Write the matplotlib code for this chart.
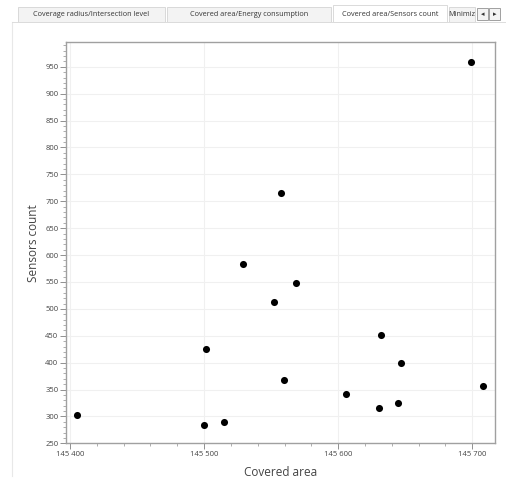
import matplotlib
matplotlib.use("Agg")
import matplotlib.pyplot as plt
from matplotlib.patches import Rectangle
from matplotlib.ticker import MultipleLocator, FuncFormatter

plt.rcParams['font.family'] = ['Open Sans', 'DejaVu Sans']

# Each run: covered area vs. number of sensors used
covered_area = [145405.0, 145500.2, 145515.1, 145501.3, 145528.9, 145557.5,
                145552.2, 145568.4, 145559.9, 145605.7, 145630.8, 145632.1,
                145647.2, 145645.0, 145699.0, 145708.4]
sensors_count = [302, 284, 290, 426, 584, 715, 512, 549, 368, 342, 316, 452,
                 400, 325, 958, 357]

tab_titles = ["Coverage radius/Intersection level",
              "Covered area/Energy consumption",
              "Covered area/Sensors count",
              "Minimiz"]
x_label = "Covered area"
y_label = "Sensors count"

W, H = 510, 482
fig = plt.figure(figsize=(W / 100, H / 100), dpi=100)
fig.patch.set_facecolor("white")


def fx(px):
    return px / W


def fy(py):
    return 1 - py / H


# ---- tab strip ----
tab_spans = [(18, 165), (167, 331), (333, 447), (449, 475)]
for i, ((x0, x1), title) in enumerate(zip(tab_spans, tab_titles)):
    selected = (i == 2)
    top = 5 if selected else 7
    fig.add_artist(Rectangle((fx(x0), fy(22)), fx(x1 - x0), (22 - top) / H,
                             transform=fig.transFigure,
                             facecolor="white" if selected else "#f3f3f3",
                             edgecolor="#d4d4d4", linewidth=0.6, zorder=1))
    fig.text(fx((x0 + x1) / 2), fy(14.5), title, ha="center", va="center",
             fontsize=5.2, color="#333333", zorder=2)
# scroll buttons
for bx, sym in [(477, "◂"), (489, "▸")]:
    fig.add_artist(Rectangle((fx(bx), fy(20)), fx(11), 12 / H,
                             transform=fig.transFigure, facecolor="#f4f4f4",
                             edgecolor="#a0a0a0", linewidth=0.7))
    fig.text(fx(bx + 5.5), fy(14), sym, ha="center", va="center",
             fontsize=5, color="#333333", family="DejaVu Sans")
# panel border under tabs
fig.add_artist(plt.Line2D([fx(12), fx(12)], [fy(22), fy(476)],
                          transform=fig.transFigure, color="#e8e8e8", lw=0.8))
fig.add_artist(plt.Line2D([fx(12), fx(333)], [fy(22), fy(22)],
                          transform=fig.transFigure, color="#dcdcdc", lw=0.7))
fig.add_artist(plt.Line2D([fx(447), fx(505)], [fy(22), fy(22)],
                          transform=fig.transFigure, color="#dcdcdc", lw=0.7))

# ---- plot area ----
left, right, top, bottom = 66, 495, 42, 443.4
ax = fig.add_axes([fx(left), fy(bottom), fx(right - left), (bottom - top) / H])
ax.set_facecolor("white")

ax.scatter(covered_area, sensors_count, s=26, color="black", zorder=3,
           linewidths=0)

ax.set_xlim(145397, 145717)
ax.set_ylim(250, 996)

ax.xaxis.set_major_locator(MultipleLocator(100))
ax.xaxis.set_minor_locator(MultipleLocator(20))
ax.yaxis.set_major_locator(MultipleLocator(50))
ax.yaxis.set_minor_locator(MultipleLocator(10))
ax.xaxis.set_major_formatter(
    FuncFormatter(lambda v, p: f"{int(round(v)):,}".replace(",", " ")))
ax.yaxis.set_major_formatter(FuncFormatter(lambda v, p: f"{int(round(v))}"))

ax.grid(True, which="major", color="#f0f0f0", linewidth=0.8, zorder=0)
ax.set_axisbelow(True)

for side in ["left", "bottom", "right", "top"]:
    ax.spines[side].set_color("#a0a0a0")
    ax.spines[side].set_linewidth(1.0)

ax.tick_params(which="major", length=4, width=0.7, color="#909090",
               labelsize=5.5, labelcolor="#444444", pad=1.5)
ax.tick_params(which="minor", length=2, width=0.6, color="#a0a0a0")

ax.set_xlabel(x_label, fontsize=8.5, color="#444444", labelpad=6)
ax.set_ylabel(y_label, fontsize=8.5, color="#444444", labelpad=4)

fig.savefig("out.png", dpi=100, facecolor="white")
